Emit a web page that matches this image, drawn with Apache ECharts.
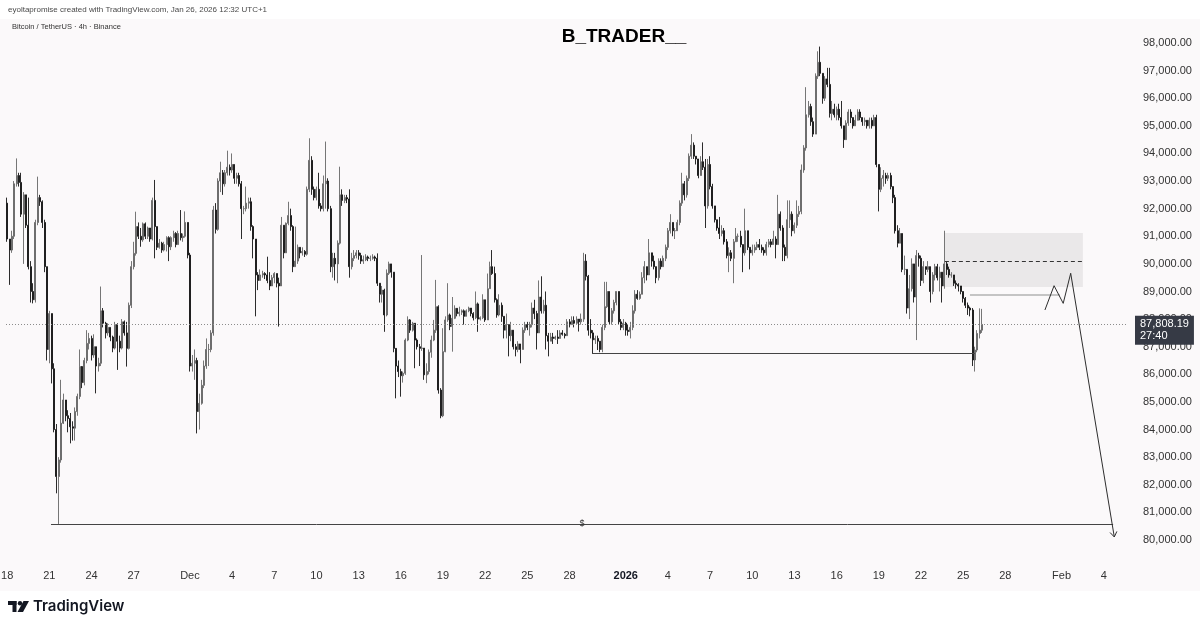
<!DOCTYPE html>
<html><head><meta charset="utf-8">
<script src="https://cdn.jsdelivr.net/npm/echarts@6/dist/echarts.min.js"></script>
<style>html,body{margin:0;padding:0;background:#fff}#c{width:1200px;height:626px}</style>
</head><body><div id="c"></div><script>
// ---- data (prices in thousands USDT), BTC/USDT 4h candles from Nov 18 2025 00:00 ----
const startDate = Date.UTC(2025, 10, 18, 0, 0);
const slotHours = 4;
const totalSlots = 478;
const firstOpen = 92.2;
const closes = [
90.9,90.5,91.0,92.9,93.2,92.95, 91.8,92.5,91.4,89.9,89.0,88.7, 91.5,92.4,92.25,91.5,89.9,86.9,
88.2,86.2,84.0,82.3,82.9,84.23, 85.07,84.5,84.4,84.1,84.05,84.65, 85.2,86.28,85.7,86.5,87.12,87.3,
86.7,87.0,86.3,86.4,88.3,87.85, 87.5,87.7,87.35,86.95,87.8,87.2, 86.95,87.9,87.5,86.94,88.5,89.9,
90.38,91.35,91.0,90.87,91.45,91.0, 91.3,90.9,92.3,91.35,90.6,90.75, 90.5,90.7,90.95,90.62,90.95,91.1,
90.7,91.1,90.95,91.0,91.5,90.32, 86.3,86.4,86.5,84.65,84.95,85.6, 86.3,86.9,86.9,87.5,91.95,91.25,
93.0,93.3,92.9,93.3,93.5,93.4, 93.6,93.1,93.2,92.9,92.0,92.0, 92.2,92.25,91.35,90.9,89.6,89.4,
89.6,89.65,89.6,89.4,89.2,89.5, 89.65,89.3,89.2,91.4,90.4,91.47, 91.75,91.35,89.9,90.1,90.6,90.4,
90.45,90.35,92.7,93.75,92.7,92.4, 92.7,92.1,92.0,92.9,93.0,92.0, 89.9,90.2,90.0,90.75,92.5,92.3,
92.4,92.35,89.9,90.2,90.3,90.4, 90.3,90.1,90.15,90.25,90.2,90.2, 90.25,90.2,89.3,88.9,89.05,88.15,
89.66,90.0,89.7,86.94,86.3,86.1, 85.95,86.04,87.24,87.97,87.6,87.85, 87.24,87.0,86.94,86.95,85.98,86.1,
86.8,87.24,87.6,88.45,85.43,84.5, 86.82,87.97,88.15,87.73,88.03,88.39, 88.2,88.25,88.3,88.1,88.3,88.4,
88.2,88.05,88.55,88.0,88.05,88.7, 87.97,89.1,89.9,89.65,88.7,88.15, 88.5,88.1,87.6,87.8,87.4,87.6,
87.0,86.9,87.1,86.9,87.6,87.8, 87.7,87.8,88.4,88.2,87.5,88.8, 88.3,88.5,87.4,87.2,87.35,87.3,
87.35,87.3,87.5,87.45,87.4,87.9, 87.8,87.95,87.85,88.0,87.9,88.0, 90.1,89.55,87.6,87.5,87.25,87.3,
87.2,86.9,87.7,88.45,89.0,87.9, 88.3,88.6,89.0,87.9,87.7,87.85, 87.6,87.55,87.7,88.3,88.9,88.75,
88.9,89.5,89.9,89.6,90.4,90.1, 89.9,89.5,90.1,89.9,90.2,90.6, 91.2,91.5,91.2,91.2,91.5,92.2,
92.9,92.5,93.1,93.9,94.3,93.9, 93.8,93.2,93.7,93.5,92.1,93.6, 92.8,92.1,91.6,91.3,91.1,91.2,
90.8,90.3,90.4,90.2,90.8,91.0, 91.0,90.7,90.4,91.2,90.6,90.4, 90.5,90.6,90.7,90.6,90.5,90.4,
90.7,90.8,90.7,90.9,90.7,91.8, 91.3,90.6,90.3,91.6,91.8,91.2, 91.4,91.8,91.9,93.4,94.2,95.4,
95.7,95.15,94.7,96.8,97.3,96.9, 96.0,96.7,96.5,95.45,95.6,95.4, 95.6,95.3,95.0,94.5,95.1,95.5,
95.3,95.0,95.2,95.5,95.3,95.15, 95.2,95.0,95.2,95.0,95.3,93.6, 92.7,93.1,93.2,93.1,93.2,92.8,
92.4,91.2,90.75,91.1,89.8,89.8, 88.4,89.1,90.0,88.8,90.3,90.2, 89.4,89.9,89.8,89.9,89.0,89.6,
89.9,89.5,89.7,89.2,90.0,89.8, 89.6,89.6,89.3,89.25,89.2,89.0, 88.75,88.5,88.4,88.33,86.52,86.88,
87.48,87.6,87.808
];
const highs = [
92.4,90.9,91.2,93.0,93.82,93.3, 93.3,92.6,92.5,92.4,90.1,89.3, 91.6,93.16,92.5,92.3,91.6,89.9,
88.3,88.2,86.4,84.2,83.0,85.8, 85.3,85.0,84.7,84.6,84.3,84.8, 85.3,86.9,86.3,86.6,87.6,87.5,
87.4,87.45,87.0,86.6,89.18,88.4, 87.9,87.85,87.7,87.4,87.9,87.85, 87.4,88.0,87.95,87.9,88.6,90.1,
90.8,91.89,91.5,91.3,91.5,91.5, 91.35,91.3,92.4,93.04,91.2,90.9, 90.8,90.8,91.0,91.0,91.0,91.2,
91.15,91.2,91.95,91.1,91.9,91.5, 90.4,86.7,86.9,86.6,85.3,85.8, 86.5,87.3,87.1,87.6,92.1,92.2,
93.1,93.7,93.4,93.4,94.1,93.6, 94.0,93.6,93.3,93.3,93.0,92.1, 92.8,92.4,92.4,91.4,90.5,89.7,
89.8,89.75,89.7,90.26,89.7,89.6, 89.7,89.4,89.5,91.7,91.4,91.5, 92.25,92.0,91.4,91.35,90.7,90.6,
90.6,90.5,92.8,94.55,93.9,92.8, 92.8,93.3,92.2,93.2,94.43,93.1, 92.1,90.4,90.4,90.85,93.52,92.7,
92.5,92.5,92.7,90.4,90.5,90.5, 90.5,90.4,90.3,90.35,90.3,90.3, 90.35,90.3,90.38,89.3,89.2,89.1,
89.8,90.08,90.0,89.7,86.95,86.5, 86.2,86.1,87.3,88.1,88.0,87.9, 87.8,87.3,87.1,90.32,86.9,86.4,
86.9,87.4,87.97,89.42,88.5,85.5, 87.67,88.1,89.3,88.2,88.8,88.5, 88.4,88.45,88.35,88.35,88.35,88.45,
88.4,88.25,89.0,88.6,88.1,88.9, 88.7,89.65,90.08,90.5,89.9,88.75, 88.9,88.6,88.1,88.2,87.8,87.9,
87.6,87.1,87.2,87.1,87.7,87.9, 87.9,87.9,88.6,88.7,88.3,89.4, 89.55,88.7,89.0,87.5,87.5,87.5,
87.4,87.6,87.6,87.6,87.5,88.0, 88.0,88.1,88.1,88.1,88.0,88.2, 90.4,90.35,89.6,88.0,87.6,87.4,
87.4,87.2,87.8,89.35,89.35,89.0, 88.4,88.7,89.0,89.0,88.0,88.0, 87.9,87.8,87.9,88.5,89.05,89.05,
89.0,89.7,90.1,89.9,90.9,90.4, 90.3,89.9,90.2,90.2,90.3,90.7, 91.3,91.8,91.5,91.3,91.6,92.3,
93.3,93.0,93.2,94.0,94.7,94.4, 93.9,93.8,93.9,94.4,93.8,93.8, 93.9,92.9,92.1,91.6,91.7,91.4,
91.3,90.9,90.6,90.5,90.9,91.3, 91.1,91.2,90.7,92.0,91.2,90.6, 90.7,90.7,90.8,90.9,90.7,90.6,
90.8,90.9,90.9,91.2,91.0,92.5, 91.9,91.4,90.7,92.3,92.3,91.9, 91.5,92.3,92.1,93.6,94.3,96.4,
95.9,95.8,95.3,96.9,97.7,97.87, 96.9,96.8,97.1,97.1,95.9,95.8, 95.7,95.8,95.9,95.0,95.2,95.6,
95.6,95.3,95.4,95.6,95.6,95.3, 95.3,95.2,95.3,95.3,95.4,95.4, 93.6,93.5,93.4,93.3,93.3,93.3,
92.8,92.5,91.4,91.3,91.1,90.3, 89.8,89.6,90.2,89.7,90.5,90.4, 90.3,90.1,89.9,90.1,89.9,89.7,
90.0,90.0,89.9,89.6,91.2,90.1, 89.9,89.7,89.6,89.4,89.3,89.2, 89.0,88.8,88.6,88.45,88.4,87.0,
87.6,88.39,88.37
];
const lows = [
90.8,89.24,90.4,90.9,92.8,92.8, 91.7,90.0,91.3,89.8,88.6,88.57, 88.6,91.4,92.1,91.3,89.7,86.5,
86.4,85.67,83.9,81.69,80.58,82.8, 84.2,84.3,83.9,83.5,83.6,83.6, 84.5,85.1,85.5,85.6,86.4,86.9,
86.5,86.6,85.31,86.1,86.3,87.7, 87.3,87.4,87.2,86.8,86.9,86.16, 86.8,86.9,87.4,86.28,86.9,88.4,
89.8,90.3,90.9,90.62,90.8,90.9, 90.9,90.8,90.85,90.2,90.5,90.55, 90.4,90.45,90.45,90.1,90.5,90.8,
90.6,90.7,90.85,90.8,90.95,90.2, 86.1,86.1,85.8,83.86,84.0,84.9, 85.5,86.2,86.3,86.8,87.4,91.1,
91.2,92.6,92.5,92.8,93.2,93.2, 93.3,92.9,92.9,92.8,90.9,91.8, 91.9,92.0,91.2,90.2,88.1,89.05,
89.5,89.5,89.45,89.3,89.05,89.2, 89.3,89.15,87.73,89.2,90.2,90.4, 91.4,91.2,89.7,89.9,90.0,90.2,
90.3,90.25,90.3,92.6,92.5,92.3, 92.3,92.0,91.9,91.9,92.0,91.9, 89.7,89.5,89.4,89.3,90.7,92.1,
92.2,92.2,89.5,89.8,90.1,90.2, 90.15,90.0,90.0,90.1,90.1,90.1, 90.15,90.1,89.2,88.6,88.6,87.54,
88.1,89.6,89.5,86.8,85.13,85.9, 85.19,85.7,85.98,87.2,87.5,87.55, 86.22,86.9,86.3,86.85,85.8,85.68,
86.0,86.6,87.2,87.5,85.3,84.41, 84.45,86.8,87.9,87.6,86.82,88.0, 88.1,88.1,88.15,87.8,88.1,88.25,
88.1,87.95,88.0,87.54,87.95,88.0, 87.9,88.6,89.1,89.6,88.6,88.05, 88.1,87.9,87.3,87.3,86.65,87.2,
86.9,86.65,86.8,86.4,86.9,87.5, 87.6,87.4,87.7,88.0,86.9,87.5, 88.2,88.2,86.9,86.65,87.2,87.1,
87.25,87.1,87.3,87.4,87.3,87.5, 87.7,87.8,87.7,87.8,87.55,87.8, 87.9,89.4,87.4,87.3,86.77,87.1,
86.88,86.8,86.8,87.6,88.4,87.8, 87.8,88.2,88.5,87.8,87.6,87.6, 87.4,87.4,87.3,87.6,88.2,88.7,
88.7,88.9,89.3,89.4,89.6,89.9, 89.8,89.3,89.4,89.8,89.9,90.1, 90.5,91.1,91.0,90.9,91.2,91.4,
92.1,92.3,92.4,93.0,93.8,93.8, 93.6,93.1,93.2,93.4,91.3,92.0, 92.7,92.0,91.5,91.2,90.9,91.0,
90.7,90.2,89.7,90.1,89.3,90.8, 90.8,90.6,89.7,90.3,90.5,89.8, 90.3,90.4,90.5,90.5,90.4,90.3,
90.3,90.6,90.6,90.7,90.2,90.7, 91.2,90.1,90.1,90.2,91.3,91.0, 91.1,91.3,91.7,91.8,93.3,94.1,
95.3,95.0,94.6,94.7,96.7,96.8, 95.8,95.9,96.4,95.3,95.2,95.3, 95.2,95.2,94.9,94.2,94.6,95.0,
95.1,94.9,95.0,95.2,95.2,95.0, 95.0,94.9,94.9,94.9,95.0,93.5, 91.9,92.6,92.8,92.9,93.0,92.7,
92.2,91.1,90.6,90.8,89.7,89.6, 88.2,88.0,89.0,88.6,87.24,89.9, 89.2,89.3,89.6,89.7,88.6,88.9,
89.4,89.4,89.0,88.6,89.1,89.6, 89.5,89.5,89.2,89.1,89.0,88.9, 88.6,88.4,88.15,88.1,86.3,86.1,
86.8,87.3,87.5
];
const currentPrice = 87.80819;
const countdown = '27:40';
const tickLabels = [[0,'18'],[18,'21'],[36,'24'],[54,'27'],[78,'Dec'],[96,'4'],[114,'7'],[132,'10'],
  [150,'13'],[168,'16'],[186,'19'],[204,'22'],[222,'25'],[240,'28'],[264,'2026'],[282,'4'],[300,'7'],
  [318,'10'],[336,'13'],[354,'16'],[372,'19'],[390,'22'],[408,'25'],[426,'28'],[450,'Feb'],[468,'4']];
// drawings (x in 4h-slot index, y in thousands)
const zoneFrom = 400.2, zoneTo = 459.1, zoneTop = 91.12, zoneBottom = 89.16, zoneMid = 90.10;
const zoneLowFrom = 410.9, zoneLowTo = 449.3, zoneLowPrice = 88.87;
const supportFrom = 249.6, supportTo = 413.0, supportPrice = 86.77;
const dollarFrom = 18.7, dollarTo = 472.0, dollarPrice = 80.58;
const projX = [442.9, 446.8, 450.7, 453.9, 472.5];
const projY = [88.33, 89.21, 88.57, 89.66, 80.11];
const arrowX = [470.7, 472.5, 473.6];
const arrowY = [80.27, 80.11, 80.31];

// ---- build ----
const fmt = v => (v * 1000).toLocaleString('en-US', {minimumFractionDigits: 2, maximumFractionDigits: 2});
const opens = closes.map((c, i) => i === 0 ? firstOpen : closes[i - 1]);
const candleData = closes.map((c, i) => {
  const o = opens[i];
  return [o, c, Math.min(lows[i], o, c), Math.max(highs[i], o, c)];
});
const categories = Array.from({length: totalSlots}, (_, i) =>
  new Date(startDate + i * slotHours * 3600e3).toISOString().slice(0, 16));
const labelAt = {};
tickLabels.forEach(([i, t]) => { labelAt[i] = t; });
const FONT = '"Liberation Sans", Arial, sans-serif';
const UP = '#666666', DOWN = '#141414';

const chart = echarts.init(document.getElementById('c'), null, {renderer: 'canvas', width: 1200, height: 626});
chart.setOption({
  animation: false,
  backgroundColor: '#fbf9fa',
  textStyle: {fontFamily: FONT},
  grid: {left: 6, width: 1120, top: 15.39, height: 552.2, containLabel: false, outerBoundsMode: 'none'},
  xAxis: [
    {type: 'category', data: categories, boundaryGap: true,
     axisLine: {show: false}, axisTick: {show: false}, splitLine: {show: false},
     axisLabel: {
       interval: (i) => labelAt[i] !== undefined,
       formatter: (v, i) => i === 264 ? '{b|2026}' : (labelAt[i] || ''),
       color: '#333', fontSize: 11, margin: 3, fontFamily: FONT,
       rich: {b: {fontWeight: 'bold', color: '#131722', fontSize: 11, fontFamily: FONT}}
     }},
    {type: 'value', min: -0.5, max: totalSlots - 0.5, show: false}
  ],
  yAxis: {type: 'value', position: 'right', min: 79, max: 99, interval: 1, scale: false,
    axisLine: {show: false}, axisTick: {show: false}, splitLine: {show: false},
    axisLabel: {showMinLabel: false, showMaxLabel: false, margin: 17, color: '#333', fontSize: 11,
      fontFamily: FONT, formatter: v => fmt(v)}},
  series: [
    {type: 'candlestick', xAxisIndex: 0, yAxisIndex: 0, data: candleData, barWidth: 1.5,
     itemStyle: {color: UP, color0: DOWN, borderColor: UP, borderColor0: DOWN, borderWidth: 0.9},
     markLine: {silent: true, symbol: ['none', 'none'], animation: false,
       data: [{yAxis: currentPrice,
         lineStyle: {color: '#8c8c8c', type: [1, 2], width: 1},
         label: {show: true, position: 'end', formatter: fmt(currentPrice) + '\n' + countdown,
           color: '#ffffff', backgroundColor: '#363a45', fontSize: 11, lineHeight: 12,
           padding: [3, 5, 2, 5], distance: 9, fontFamily: FONT, offset: [0, 6]}}]}},
    {type: 'line', xAxisIndex: 1, yAxisIndex: 0, data: projX.map((x, i) => [x, projY[i]]),
     symbol: 'none', lineStyle: {color: '#2e2e2e', width: 1}, z: 5, silent: true,
     markArea: {silent: true, itemStyle: {color: 'rgba(0,0,0,0.065)'},
       data: [[{coord: [zoneFrom, zoneTop]}, {coord: [zoneTo, zoneBottom]}]]},
     markLine: {silent: true, symbol: ['none', 'none'], animation: false, label: {show: false},
       data: [
         [{coord: [zoneFrom, zoneMid], lineStyle: {type: [4, 3], color: '#333', width: 1}}, {coord: [zoneTo, zoneMid]}],
         [{coord: [zoneLowFrom, zoneLowPrice], lineStyle: {type: 'solid', color: '#c4c4c4', width: 2}}, {coord: [zoneLowTo, zoneLowPrice]}],
         [{coord: [supportFrom, supportPrice], lineStyle: {type: 'solid', color: '#444', width: 1}}, {coord: [supportTo, supportPrice]}],
         [{coord: [dollarFrom, dollarPrice], lineStyle: {type: 'solid', color: '#444', width: 1},
           label: {show: true, position: 'middle', formatter: '$', color: '#333', fontSize: 9, distance: -4, fontFamily: FONT}},
          {coord: [dollarTo, dollarPrice]}]
       ]}},
    {type: 'line', xAxisIndex: 1, yAxisIndex: 0, data: arrowX.map((x, i) => [x, arrowY[i]]),
     symbol: 'none', lineStyle: {color: '#2e2e2e', width: 1}, z: 5, silent: true}
  ],
  graphic: [
    {type: 'rect', shape: {x: 0, y: 0, width: 1200, height: 19}, style: {fill: '#ffffff'}, silent: true},
    {type: 'rect', shape: {x: 0, y: 591, width: 1200, height: 35}, style: {fill: '#ffffff'}, silent: true},
    {type: 'text', x: 8, y: 10, silent: true, style: {text: 'eyoltapromise created with TradingView.com, Jan 26, 2026 12:32 UTC+1',
      fill: '#4a4a4a', font: '8px ' + FONT, verticalAlign: 'middle'}},
    {type: 'text', x: 12, y: 27, silent: true, style: {text: 'Bitcoin / TetherUS \u00b7 4h \u00b7 Binance',
      fill: '#333333', font: '7.5px ' + FONT, verticalAlign: 'middle'}},
    {type: 'text', x: 624, y: 37, silent: true, style: {text: 'B_TRADER__', fill: '#000000',
      font: 'bold 19px ' + FONT, align: 'center', verticalAlign: 'middle'}},
    {type: 'rect', shape: {x: 8, y: 601, width: 8.5, height: 4}, style: {fill: '#131722'}, silent: true},
    {type: 'rect', shape: {x: 12.5, y: 601, width: 4, height: 11}, style: {fill: '#131722'}, silent: true},
    {type: 'circle', shape: {cx: 20, cy: 603.2, r: 2.2}, style: {fill: '#131722'}, silent: true},
    {type: 'polygon', shape: {points: [[23.5, 601], [29, 601], [23, 612], [17.5, 612]]}, style: {fill: '#131722'}, silent: true},
    {type: 'text', x: 33, y: 606.5, silent: true, style: {text: 'TradingView', fill: '#131722',
      font: '600 15px Inter, ' + FONT, verticalAlign: 'middle'}}
  ]
});
</script></body></html>
